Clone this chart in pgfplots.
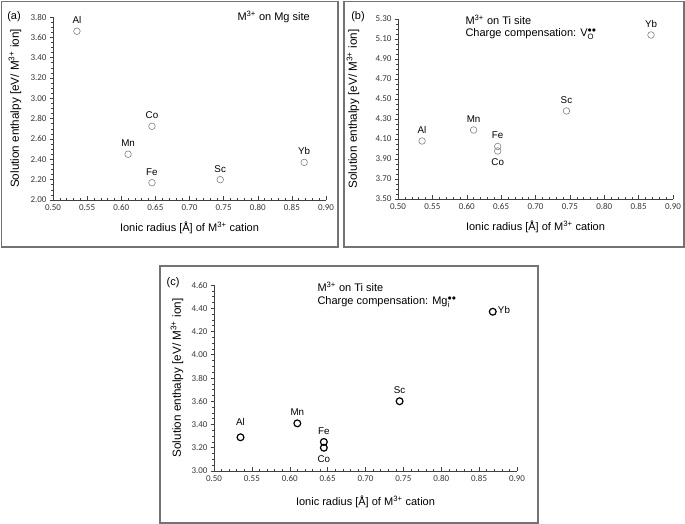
\documentclass[border=0pt]{standalone}
\usepackage{pgfplots}
\pgfplotsset{compat=1.18}
\usepackage{fontspec}
\setmainfont{Liberation Sans}
\newfontfamily\tickfont{Carlito}
\pgfplotsset{
  panel/.style={
    scale only axis,
    axis x line=bottom, axis y line=left,
    axis line style={-, black!75, line width=0.6pt},
    xmin=0.5, xmax=0.9,
    xtick={0.5,0.55,0.6,0.65,0.7,0.75,0.8,0.85,0.9},
    minor x tick num=4,
    minor y tick num=3,
    tick align=inside,
    major tick length=3.5pt, minor tick length=2pt,
    every tick/.style={black!75, line width=0.5pt},
    major y tick style={xshift=-3.5pt},
    minor y tick style={xshift=-2pt},
    /pgf/number format/assume math mode=true,
    xticklabel style={/pgf/number format/.cd, fixed, fixed zerofill, precision=2},
    yticklabel style={/pgf/number format/.cd, fixed, fixed zerofill, precision=2},
    tick label style={font=\tickfont\fontsize{9}{10}\selectfont, text=black!78},
    xticklabel shift=1pt, yticklabel shift=3pt,
    every axis x label/.style={at={(axis description cs:0.5,0)}, anchor=center, yshift=-28pt, font=\fontsize{11}{12}\selectfont},
    ylabel={Solution enthalpy [eV/ M\textsuperscript{3+} ion]},
    xlabel={Ionic radius [Å] of M\textsuperscript{3+} cation},
    clip=false,
  },
  pt/.style={only marks, mark=o, mark size=3.3pt, mark options={gray, line width=0.6pt}},
  ptc/.style={only marks, mark=o, mark size=3.4pt, mark options={black, line width=1.2pt}},
}
\tikzset{lab/.style={font=\fontsize{9.8}{10}\selectfont, inner sep=0pt},
  ylab/.style={at={(axis description cs:0,0.5)}, anchor=center, rotate=90, font=\fontsize{11.7}{13}\selectfont}}
\begin{document}
\begin{tikzpicture}
\path[use as bounding box] (0pt,0pt) rectangle (685pt,524pt);
\draw[black!55, line width=1.2pt] (1.5pt,277pt) rectangle (338pt,522.5pt);
\draw[black!55, line width=1.2pt] (344pt,277pt) rectangle (684pt,522.5pt);
\draw[black!55, line width=1.2pt] (160pt,1pt) rectangle (538pt,258pt);

% (a)
\begin{axis}[panel, at={(53pt,324pt)}, anchor=south west, width=273pt, height=183pt,
  ymin=2, ymax=3.8, ytick={2,2.2,2.4,2.6,2.8,3,3.2,3.4,3.6,3.8},
  every axis y label/.style={ylab, yshift=38pt}]
\addplot[pt] coordinates {(0.535,3.66) (0.61,2.45) (0.645,2.725) (0.645,2.17) (0.745,2.20) (0.868,2.37)};
\node[lab, yshift=11pt] at (axis cs:0.535,3.66) {Al};
\node[lab, yshift=11pt] at (axis cs:0.61,2.45) {Mn};
\node[lab, yshift=11pt] at (axis cs:0.645,2.725) {Co};
\node[lab, yshift=11pt] at (axis cs:0.645,2.17) {Fe};
\node[lab, yshift=11pt] at (axis cs:0.745,2.20) {Sc};
\node[lab, yshift=11pt] at (axis cs:0.868,2.37) {Yb};
\end{axis}
\node[font=\fontsize{11}{12}\selectfont, anchor=west] at (234pt,507pt) {M\textsuperscript{3+} on Mg site};
\node[font=\fontsize{11}{12}\selectfont] at (14pt,507pt) {(a)};

% (b)
\begin{axis}[panel, at={(398pt,325pt)}, anchor=south west, width=275pt, height=180pt,
  ymin=3.5, ymax=5.3, ytick={3.5,3.7,3.9,4.1,4.3,4.5,4.7,4.9,5.1,5.3},
  every axis y label/.style={ylab, yshift=45pt}]
\addplot[pt] coordinates {(0.535,4.08) (0.61,4.19) (0.645,4.025) (0.645,3.98) (0.745,4.38) (0.868,5.14)};
\node[lab, yshift=11pt] at (axis cs:0.535,4.08) {Al};
\node[lab, yshift=11pt] at (axis cs:0.61,4.19) {Mn};
\node[lab, yshift=11pt] at (axis cs:0.645,4.025) {Fe};
\node[lab, yshift=-11pt] at (axis cs:0.645,3.98) {Co};
\node[lab, yshift=11pt] at (axis cs:0.745,4.38) {Sc};
\node[lab, yshift=11pt] at (axis cs:0.868,5.14) {Yb};
\end{axis}
\node[font=\fontsize{11}{12}\selectfont, anchor=west] at (462pt,504pt) {M\textsuperscript{3+} on Ti site};
\node[font=\fontsize{11}{12}\selectfont, anchor=west] at (462pt,490pt) {Charge compensation: $\mathrm{V}_{\mathrm{O}}^{\bullet\bullet}$};
\node[font=\fontsize{11}{12}\selectfont] at (358pt,507pt) {(b)};

% (c)
\begin{axis}[panel, at={(214pt,53pt)}, anchor=south west, width=303pt, height=186pt,
  ymin=3.0, ymax=4.6, ytick={3,3.2,3.4,3.6,3.8,4,4.2,4.4,4.6},
  every axis x label/.style={at={(axis description cs:0.5,0)}, anchor=center, yshift=-31pt, font=\fontsize{11}{12}\selectfont},
  every axis y label/.style={ylab, yshift=37pt}]
\addplot[ptc] coordinates {(0.535,3.29) (0.61,3.41) (0.645,3.25) (0.645,3.20) (0.745,3.60) (0.868,4.37)};
\node[lab, yshift=15pt] at (axis cs:0.535,3.29) {Al};
\node[lab, yshift=11pt] at (axis cs:0.61,3.41) {Mn};
\node[lab, yshift=11pt] at (axis cs:0.645,3.25) {Fe};
\node[lab, yshift=-11pt] at (axis cs:0.645,3.20) {Co};
\node[lab, yshift=11pt] at (axis cs:0.745,3.60) {Sc};
\node[lab, anchor=west, xshift=5pt, yshift=2pt] at (axis cs:0.868,4.37) {Yb};
\end{axis}
\node[font=\fontsize{11}{12}\selectfont, anchor=west] at (314pt,237pt) {M\textsuperscript{3+} on Ti site};
\node[font=\fontsize{11}{12}\selectfont, anchor=west] at (314pt,222pt) {Charge compensation: $\mathrm{Mg}_{\mathrm{i}}^{\bullet\bullet}$};
\node[font=\fontsize{11}{12}\selectfont] at (173pt,241pt) {(c)};
\end{tikzpicture}
\end{document}
